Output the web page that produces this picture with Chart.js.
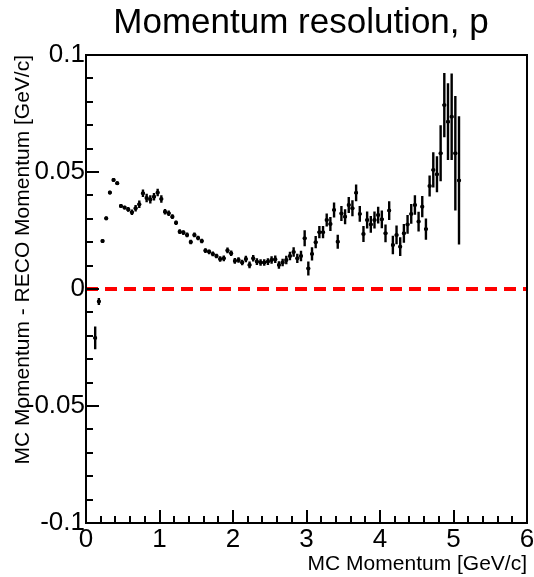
<!DOCTYPE html>
<html lang="en">
<head>
    <meta charset="UTF-8">
    <title>Momentum resolution, p</title>
    <script src="https://cdn.jsdelivr.net/npm/chart.js"></script>
    <style>
        body {
            margin: 0;
            background: #fff;
        }
        #wrap {
            width: 534px;
            height: 577px;
        }
    </style>
</head>
<body>
    <div id="wrap">
        <canvas id="resChart" width="534" height="577"></canvas>
    </div>

    <script>
        // ---------- data: MC momentum bins (GeV/c) ----------
        const momentum = [
            0.125, 0.175, 0.225, 0.275, 0.325, 0.375, 0.425, 0.475, 0.525, 0.575,
            0.625, 0.675, 0.725, 0.775, 0.825, 0.875, 0.925, 0.975, 1.025, 1.075,
            1.125, 1.175, 1.225, 1.275, 1.325, 1.375, 1.425, 1.475, 1.525, 1.575,
            1.625, 1.675, 1.725, 1.775, 1.825, 1.875, 1.925, 1.975, 2.025, 2.075,
            2.125, 2.175, 2.225, 2.275, 2.325, 2.375, 2.425, 2.475, 2.525, 2.575,
            2.625, 2.675, 2.725, 2.775, 2.825, 2.875, 2.925, 2.975, 3.025, 3.075,
            3.125, 3.175, 3.225, 3.275, 3.325, 3.375, 3.425, 3.475, 3.525, 3.575,
            3.625, 3.675, 3.725, 3.775, 3.825, 3.875, 3.925, 3.975, 4.025, 4.075,
            4.125, 4.175, 4.225, 4.275, 4.325, 4.375, 4.425, 4.475, 4.525, 4.575,
            4.625, 4.675, 4.725, 4.775, 4.825, 4.875, 4.925, 4.975, 5.025, 5.075
        ];

        // mean (MC - RECO) momentum per bin
        const deltaP = [
            -0.0209, -0.0053, 0.0205, 0.0302, 0.0412, 0.0466, 0.0452, 0.0355, 0.0348, 0.0340,
            0.0328, 0.0345, 0.0362, 0.0409, 0.0389, 0.0383, 0.0394, 0.0412, 0.0385, 0.0330,
            0.0324, 0.0309, 0.0283, 0.0245, 0.0241, 0.0231, 0.0201, 0.0231, 0.0218, 0.0205,
            0.0164, 0.0159, 0.0150, 0.0141, 0.0128, 0.0131, 0.0165, 0.0153, 0.0120, 0.0124,
            0.0113, 0.0128, 0.0103, 0.0131, 0.0117, 0.0113, 0.0113, 0.0117, 0.0124, 0.0127,
            0.0103, 0.0113, 0.0124, 0.0141, 0.0158, 0.0131, 0.0141, 0.0217, 0.0088, 0.0150,
            0.0200, 0.0243, 0.0243, 0.0295, 0.0278, 0.0338, 0.0202, 0.0323, 0.0309, 0.0359,
            0.0345, 0.0411, 0.0321, 0.0235, 0.0295, 0.0276, 0.0295, 0.0316, 0.0298, 0.0238,
            0.0335, 0.0188, 0.0231, 0.0181, 0.0238, 0.0276, 0.0321, 0.0359, 0.0288, 0.0352,
            0.0256, 0.0440, 0.0509, 0.0490, 0.0580, 0.0786, 0.0715, 0.0736, 0.0580, 0.0464
        ];

        // error on the mean per bin
        const deltaErr = [
            0.0049, 0.0015, 0.0008, 0.0008, 0.0008, 0.0008, 0.0008, 0.0008, 0.0008, 0.0010,
            0.0012, 0.0014, 0.0016, 0.0016, 0.0018, 0.0018, 0.0016, 0.0016, 0.0016, 0.0012,
            0.0012, 0.0010, 0.0010, 0.0010, 0.0010, 0.0010, 0.0010, 0.0010, 0.0010, 0.0010,
            0.0010, 0.0010, 0.0010, 0.0010, 0.0012, 0.0012, 0.0012, 0.0012, 0.0012, 0.0012,
            0.0012, 0.0014, 0.0014, 0.0014, 0.0014, 0.0014, 0.0014, 0.0014, 0.0016, 0.0016,
            0.0016, 0.0016, 0.0018, 0.0018, 0.0020, 0.0020, 0.0022, 0.0034, 0.0030, 0.0028,
            0.0026, 0.0026, 0.0026, 0.0028, 0.0030, 0.0032, 0.0030, 0.0032, 0.0032, 0.0034,
            0.0034, 0.0036, 0.0034, 0.0034, 0.0036, 0.0036, 0.0036, 0.0036, 0.0038, 0.0038,
            0.0040, 0.0040, 0.0040, 0.0040, 0.0040, 0.0040, 0.0042, 0.0042, 0.0042, 0.0045,
            0.0045, 0.0045, 0.0075, 0.0077, 0.0120, 0.0137, 0.0164, 0.0185, 0.0245, 0.0274
        ];

        const BIN_HALF = 0.025;

        // ---------- axis ticks ----------
        const xTicks = [0, 1, 2, 3, 4, 5, 6];
        const xTickLabels = ['0', '1', '2', '3', '4', '5', '6'];
        const yTicks = [-0.1, -0.05, 0, 0.05, 0.1];
        const yTickLabels = ['-0.1', '-0.05', '0', '0.05', '0.1'];

        const FONT = '"Liberation Sans", Arial, Helvetica, sans-serif';

        // error bars drawn under the markers
        const errorBars = {
            id: 'errorBars',
            beforeDatasetsDraw(chart) {
                const { ctx, scales: { x, y } } = chart;
                ctx.save();
                ctx.strokeStyle = '#000';
                ctx.lineWidth = 2.4;
                ctx.beginPath();
                for (let i = 0; i < momentum.length; i++) {
                    const px = x.getPixelForValue(momentum[i]);
                    const py = y.getPixelForValue(deltaP[i]);
                    ctx.moveTo(px, y.getPixelForValue(deltaP[i] - deltaErr[i]));
                    ctx.lineTo(px, y.getPixelForValue(deltaP[i] + deltaErr[i]));
                    ctx.moveTo(x.getPixelForValue(momentum[i] - BIN_HALF), py);
                    ctx.lineTo(x.getPixelForValue(momentum[i] + BIN_HALF), py);
                }
                ctx.stroke();
                ctx.restore();
            }
        };

        // frame, inward ticks, labels and titles
        const rootFrame = {
            id: 'rootFrame',
            afterDraw(chart) {
                const { ctx, chartArea: a, scales: { x, y } } = chart;
                ctx.save();
                ctx.strokeStyle = '#000';
                ctx.fillStyle = '#000';
                ctx.lineWidth = 2;
                ctx.strokeRect(a.left, a.top, a.right - a.left, a.bottom - a.top);

                // ticks
                ctx.beginPath();
                for (let v = 0; v <= 6.0001; v += 0.2) {
                    const px = Math.round(x.getPixelForValue(v));
                    const major = Math.abs(v - Math.round(v)) < 1e-6;
                    ctx.moveTo(px, a.bottom);
                    ctx.lineTo(px, a.bottom - (major ? 13 : 7));
                }
                for (let k = -10; k <= 10; k++) {
                    const py = Math.round(y.getPixelForValue(k / 100));
                    const major = k % 5 === 0;
                    ctx.moveTo(a.left, py);
                    ctx.lineTo(a.left + (major ? 13 : 7), py);
                }
                ctx.stroke();

                // tick labels
                ctx.font = '26px ' + FONT;
                ctx.textAlign = 'center';
                ctx.textBaseline = 'top';
                xTicks.forEach((v, i) => {
                    ctx.fillText(xTickLabels[i], x.getPixelForValue(v), a.bottom + 4);
                });
                ctx.textAlign = 'right';
                ctx.textBaseline = 'middle';
                yTicks.forEach((v, i) => {
                    ctx.fillText(yTickLabels[i], a.left - 1, y.getPixelForValue(v));
                });

                // axis titles
                ctx.font = '21px ' + FONT;
                ctx.textAlign = 'right';
                ctx.textBaseline = 'alphabetic';
                ctx.fillText('MC Momentum [GeV/c]', a.right, 570);

                ctx.translate(29, a.top);
                ctx.rotate(-Math.PI / 2);
                ctx.fillText('MC Momentum - RECO Momentum [GeV/c]', 0, 0);
                ctx.restore();

                // histogram title
                ctx.save();
                ctx.font = '35px ' + FONT;
                ctx.textAlign = 'center';
                ctx.textBaseline = 'alphabetic';
                ctx.fillStyle = '#000';
                ctx.fillText('Momentum resolution, p', 301, 33);
                ctx.restore();
            }
        };

        new Chart(document.getElementById('resChart'), {
            type: 'scatter',
            data: {
                datasets: [
                    {
                        label: 'zero',
                        type: 'line',
                        data: [{ x: 0, y: 0 }, { x: 6, y: 0 }],
                        borderColor: '#ff0000',
                        borderWidth: 4,
                        borderDash: [12, 7],
                        pointRadius: 0,
                        order: 2
                    },
                    {
                        label: 'resolution',
                        data: momentum.map((m, i) => ({ x: m, y: deltaP[i] })),
                        backgroundColor: '#000',
                        borderColor: '#000',
                        pointRadius: 2,
                        borderWidth: 0,
                        order: 1
                    }
                ]
            },
            options: {
                responsive: false,
                animation: false,
                layout: {
                    padding: { left: 86, right: 7, top: 55, bottom: 54 }
                },
                plugins: {
                    legend: { display: false },
                    tooltip: { enabled: false },
                    title: { display: false }
                },
                scales: {
                    x: { type: 'linear', min: 0, max: 6, display: false },
                    y: { type: 'linear', min: -0.1, max: 0.1, display: false }
                }
            },
            plugins: [errorBars, rootFrame]
        });
    </script>
</body>
</html>
